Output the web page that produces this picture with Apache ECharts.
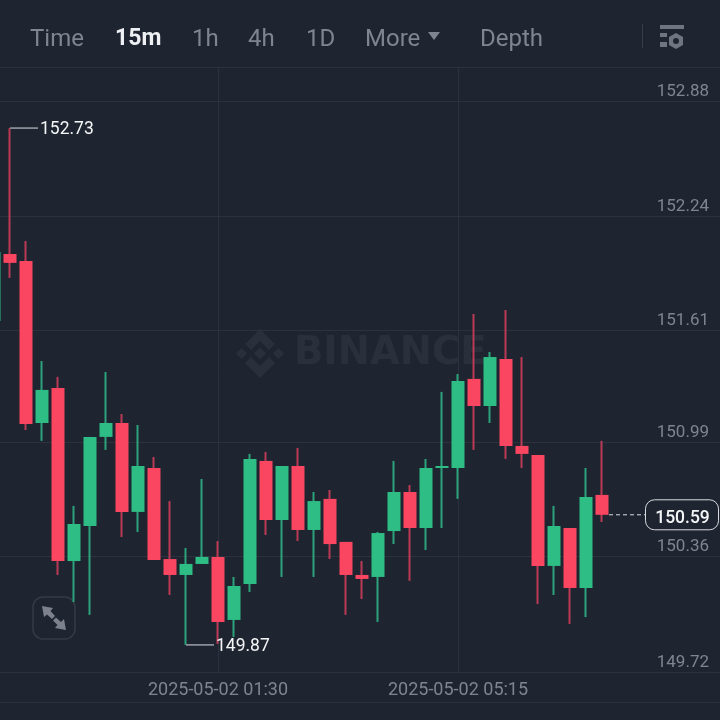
<!DOCTYPE html>
<html>
<head>
<meta charset="utf-8">
<style>
  html, body { margin: 0; padding: 0; background: #1f2530; }
  #main { width: 720px; height: 720px; }
</style>
<script src="https://cdn.jsdelivr.net/npm/echarts@6/dist/echarts.min.js"></script>
</head>
<body>
<div id="main"></div>
<script>
var categories = [
  '2025-05-01 22:00','2025-05-01 22:15','2025-05-01 22:30','2025-05-01 22:45',
  '2025-05-01 23:00','2025-05-01 23:15','2025-05-01 23:30','2025-05-01 23:45',
  '2025-05-02 00:00','2025-05-02 00:15','2025-05-02 00:30','2025-05-02 00:45',
  '2025-05-02 01:00','2025-05-02 01:15','2025-05-02 01:30','2025-05-02 01:45',
  '2025-05-02 02:00','2025-05-02 02:15','2025-05-02 02:30','2025-05-02 02:45',
  '2025-05-02 03:00','2025-05-02 03:15','2025-05-02 03:30','2025-05-02 03:45',
  '2025-05-02 04:00','2025-05-02 04:15','2025-05-02 04:30','2025-05-02 04:45',
  '2025-05-02 05:00','2025-05-02 05:15','2025-05-02 05:30','2025-05-02 05:45',
  '2025-05-02 06:00','2025-05-02 06:15','2025-05-02 06:30','2025-05-02 06:45',
  '2025-05-02 07:00','2025-05-02 07:15','2025-05-02 07:30','2025-05-02 07:45',
  '2025-05-02 08:00','2025-05-02 08:15','2025-05-02 08:30','2025-05-02 08:45',
  '2025-05-02 09:00','2025-05-02 09:15'
]
var opens = [151.663,152.033,151.995,151.098,151.292,150.334,150.528,151.021,151.098,150.606,
  150.849,150.345,150.257,150.318,150.357,150.008,150.207,150.888,150.561,150.860,
  150.506,150.678,150.440,150.257,150.246,150.500,150.716,150.517,150.849,150.849,
  151.342,151.192,151.452,150.971,150.921,150.307,150.517,150.185,150.700]
var closes = [152.044,151.984,151.093,151.281,150.334,150.539,151.021,151.098,150.606,150.860,
  150.340,150.257,150.318,150.357,149.997,150.196,150.899,150.561,150.860,150.506,
  150.666,150.428,150.257,150.235,150.489,150.716,150.517,150.849,150.860,151.331,
  151.192,151.463,150.971,150.927,150.307,150.528,150.185,150.689,150.590]
var lows = [151.600,151.901,151.059,150.999,150.257,150.107,150.036,150.949,150.467,150.495,
  150.340,150.146,149.870,150.318,149.875,149.914,150.163,150.478,150.246,150.445,
  150.246,150.345,150.036,150.124,149.997,150.428,150.224,150.395,150.517,150.678,
  150.949,151.098,150.899,150.849,150.096,150.146,149.986,150.024,150.550]
var highs = [152.100,152.730,152.105,151.441,151.353,150.639,151.021,151.380,151.148,151.087,
  150.910,150.666,150.406,150.788,150.445,150.246,150.927,150.938,150.860,150.960,
  150.716,150.727,150.440,150.334,150.495,150.888,150.755,150.899,151.270,151.369,
  151.701,151.491,151.723,151.463,150.921,150.639,150.517,150.849,150.999]
var priceTicks = [152.88, 152.24, 151.61, 150.99, 150.36, 149.72]
var timeLabels = ['2025-05-02 01:30', '2025-05-02 05:15']
var lastPrice = 150.59

var UP = '#2ebd85', DOWN = '#fb4661'
var UP_WICK = '#2aa37a', DOWN_WICK = '#bb3a55'
var GRID = '#2c323d', TEXT = '#7f8590', FONT = 'Roboto'

var wickData = [], bodyData = []
for (var i = 0; i < opens.length; i++) {
  wickData.push([opens[i], closes[i], lows[i], highs[i]])
  bodyData.push([opens[i], closes[i], Math.min(opens[i], closes[i]), Math.max(opens[i], closes[i])])
}

function isTimeLabel(index) {
  return timeLabels.indexOf(categories[index]) >= 0
}

function headerText(x, str, active) {
  return {
    type: 'text', x: x, y: 39.5,
    style: {
      text: str, fill: active ? '#eef0f3' : TEXT, fontFamily: FONT,
      fontSize: active ? 23 : 24, fontWeight: active ? 'bold' : 'normal', verticalAlign: 'middle'
    }
  }
}
function box(x, y, w, h, color) {
  return { type: 'rect', shape: { x: x, y: y, width: w, height: h }, style: { fill: color } }
}
function poly(points, color) {
  return { type: 'polygon', shape: { points: points }, style: { fill: color } }
}

var WM = '#2a303b'
var myChart = echarts.init(document.getElementById('main'))
var option = {
  animation: false,
  backgroundColor: '#1f2530',
  grid: { left: -14, width: 736, top: 67, height: 605, outerBoundsMode: 'none' },
  xAxis: {
    type: 'category',
    data: categories,
    boundaryGap: true,
    axisLine: { show: false },
    axisTick: { show: false },
    axisLabel: {
      interval: function(index) { return isTimeLabel(index) },
      color: TEXT, fontFamily: FONT, fontSize: 18, margin: 9, hideOverlap: false
    },
    splitLine: {
      show: true,
      alignWithLabel: true,
      interval: function(index) { return isTimeLabel(index) },
      lineStyle: { color: GRID, width: 1 }
    }
  },
  yAxis: {
    type: 'value',
    position: 'right',
    min: 149.72,
    max: 153.068,
    axisLine: { show: false },
    axisTick: { show: false, customValues: priceTicks },
    axisLabel: {
      inside: true, margin: 13, customValues: priceTicks,
      formatter: function(v) { return v.toFixed(2) },
      color: TEXT, fontFamily: FONT, fontSize: 17, verticalAlign: 'bottom', padding: [0, 0, 1, 0]
    },
    splitLine: { show: true, lineStyle: { color: GRID, width: 1 } }
  },
  graphic: [
    // header
    headerText(30, 'Time'), headerText(115, '15m', true), headerText(192, '1h'),
    headerText(248, '4h'), headerText(306, '1D'), headerText(365, 'More'), headerText(480, 'Depth'),
    poly([[428, 32], [440, 32], [434, 40]], TEXT),
    box(642, 24, 1, 24, '#383e49'),
    box(660, 25, 24, 4, '#6f7581'), box(660, 33, 7, 4, '#6f7581'), box(660, 42, 7, 5, '#6f7581'),
    poly([[676, 33], [683, 37], [683, 45], [676, 49], [669, 45], [669, 37]], '#6f7581'),
    { type: 'circle', shape: { cx: 676, cy: 41, r: 3 }, style: { fill: '#1f2530' } },
    box(0, 67, 720, 1, GRID),
    box(0, 702, 720, 1, GRID),
    // watermark
    poly([[260, 329], [275, 344], [269, 350], [260, 341], [251, 350], [245, 344]], WM),
    poly([[260, 378], [275, 363], [269, 357], [260, 366], [251, 357], [245, 363]], WM),
    poly([[236, 353.5], [241.5, 348], [247, 353.5], [241.5, 359]], WM),
    poly([[273, 353.5], [278.5, 348], [284, 353.5], [278.5, 359]], WM),
    poly([[260, 347.5], [266, 353.5], [260, 359.5], [254, 353.5]], WM),
    {
      type: 'text', x: 294, y: 354,
      style: { text: 'BINANCE', fill: WM, fontFamily: 'DejaVu Sans', fontWeight: 'bold', fontSize: 38.5, verticalAlign: 'middle' }
    },
    // expand button
    {
      type: 'rect', shape: { x: 33, y: 597, width: 42, height: 42, r: 10 },
      style: { fill: 'none', stroke: '#343a46', lineWidth: 1.5 }
    },
    poly([[42, 606], [53, 608], [50.5, 611], [55, 616], [52, 619], [47, 614.5], [44, 617]], '#7c818c'),
    poly([[66, 630], [55, 628], [57.5, 625], [53, 620.5], [56, 617.5], [61, 622], [64, 619]], '#7c818c')
  ],
  series: [
    {
      type: 'candlestick',
      barWidth: 1,
      data: wickData,
      itemStyle: { color: UP_WICK, color0: DOWN_WICK, borderColor: UP_WICK, borderColor0: DOWN_WICK, borderWidth: 2 },
      markPoint: {
        symbol: 'rect',
        symbolSize: [28, 1.5],
        symbolOffset: [14, 0],
        itemStyle: { color: '#9da1a8' },
        label: {
          show: true, position: 'right', distance: 2, color: '#f4f5f6',
          fontFamily: FONT, fontSize: 17.5, offset: [0, 2],
          formatter: function(p) { return p.value.toFixed(2) }
        },
        data: [
          { coord: [categories[1], highs[1]], value: highs[1] },
          { coord: [categories[12], lows[12]], value: lows[12] }
        ]
      }
    },
    {
      type: 'candlestick',
      barWidth: 14,
      data: bodyData,
      itemStyle: { color: UP, color0: DOWN, borderColor: UP, borderColor0: DOWN, borderWidth: 0 }
    }
  ]
}
myChart.setOption(option)

// last price tag sits on the price scale
var lastY = myChart.convertToPixel({ yAxisIndex: 0 }, lastPrice)
var tag = option.graphic.concat([
  {
    type: 'line', z: 5,
    shape: { x1: 609, y1: lastY, x2: 645, y2: lastY },
    style: { stroke: '#d8dade', lineWidth: 1, lineDash: [4, 3] }
  },
  {
    type: 'rect', z: 5,
    shape: { x: 645.5, y: lastY - 15, width: 73, height: 30, r: 9 },
    style: { fill: '#1f2530', stroke: '#d8dade', lineWidth: 1 }
  },
  {
    type: 'text', z: 6, x: 682.5, y: lastY + 4,
    style: {
      text: lastPrice.toFixed(2), fill: '#f4f5f6', fontFamily: FONT, fontSize: 17.5,
      fontWeight: 500, align: 'center', verticalAlign: 'middle'
    }
  }
])
myChart.setOption({ graphic: tag })
</script>
</body>
</html>
